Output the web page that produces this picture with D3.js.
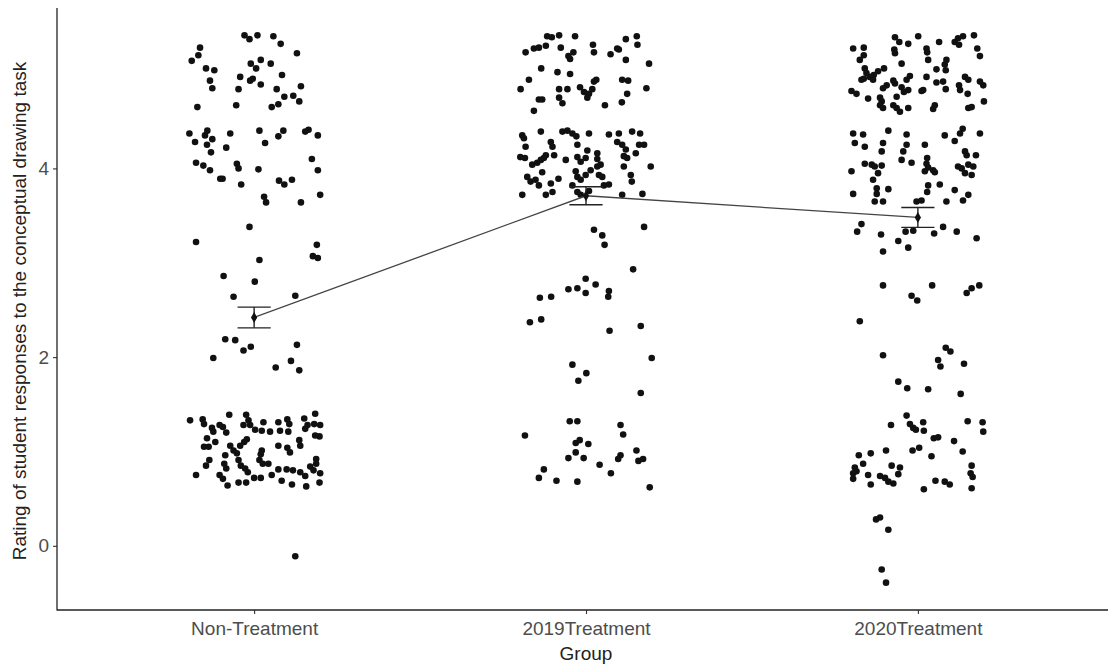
<!DOCTYPE html>
<html><head><meta charset="utf-8">
<script src="https://cdn.jsdelivr.net/npm/d3@7"></script>
<style>body{margin:0;background:#fff}svg{display:block}text{font-family:"Liberation Sans",Arial,sans-serif}</style>
</head><body>
<svg id="chart" width="1108" height="666"></svg>
<script>
const categories = ["Non-Treatment","2019Treatment","2020Treatment"];
const yTicks = [0,2,4];
const xTitle = "Group";
const yTitle = "Rating of student responses to the conceptual drawing task";
const groupMeans = [2.42, 3.71, 3.48];
const groupSE = [0.11, 0.095, 0.105];
// [horizontal jitter (in category steps), jittered rating]
const nonTreatment = [
[-0.029,5.41],[-0.014,5.37],[0.010,5.41],[0.058,5.40],[0.080,5.32],
[-0.163,5.28],[-0.168,5.20],[-0.188,5.14],[0.129,5.22],
[-0.145,5.06],[-0.120,5.04],[-0.010,5.11],[0.020,5.15],[0.006,5.06],[0.050,5.11],
[-0.133,4.93],[-0.126,4.85],[-0.042,4.97],[-0.004,4.95],[-0.012,4.93],[0.020,4.89],[0.084,4.99],[-0.047,4.84],[0.068,4.84],[0.141,4.87],
[-0.171,4.65],[-0.054,4.67],[0.053,4.65],[0.073,4.68],[0.091,4.76],[0.118,4.77],[0.136,4.71],
[-0.195,4.37],[-0.178,4.28],[-0.148,4.35],[-0.141,4.40],[-0.142,4.25],[-0.126,4.31],[-0.130,4.17],[-0.072,4.37],[-0.084,4.22],[0.016,4.40],[0.033,4.27],[0.073,4.34],[0.088,4.40],[0.154,4.39],[0.164,4.41],[0.192,4.35],
[-0.175,4.06],[-0.153,4.03],[-0.133,3.98],[-0.102,3.89],[-0.095,3.89],[-0.052,4.05],[-0.047,4.00],[-0.039,3.83],[0.013,3.99],[0.075,3.87],[0.091,3.83],[0.114,3.88],[0.174,4.10],[0.192,3.98],
[0.030,3.70],[0.036,3.64],[0.141,3.64],[0.199,3.72],
[-0.014,3.38],[-0.175,3.22],[0.189,3.19],[0.177,3.07],[0.192,3.05],[0.016,3.03],[-0.092,2.86],[0.002,2.80],[-0.062,2.64],[0.124,2.65],
[-0.087,2.19],[-0.057,2.18],[-0.032,2.07],[-0.010,2.11],[-0.123,1.99],[0.129,2.13],[0.065,1.89],[0.111,1.96],[0.136,1.86],
[-0.193,1.33],[-0.155,1.34],[-0.151,1.29],[-0.127,1.25],[-0.123,1.21],[-0.104,1.28],[-0.094,1.26],[-0.084,1.20],[-0.075,1.39],[-0.024,1.39],[-0.017,1.33],[-0.012,1.28],[-0.032,1.28],[0.003,1.23],[0.023,1.22],[0.028,1.31],[0.048,1.21],[0.073,1.31],[0.078,1.22],[0.100,1.34],[0.106,1.29],[0.103,1.21],[0.151,1.35],[0.154,1.24],[0.161,1.28],[0.184,1.40],[0.181,1.29],[0.199,1.28],[0.197,1.16],[0.184,1.17],
[-0.142,1.14],[-0.151,1.05],[-0.137,1.05],[-0.117,1.10],[-0.072,1.06],[-0.062,1.01],[-0.052,0.98],[-0.042,1.06],[-0.030,1.10],[-0.022,1.13],[-0.087,0.96],[-0.135,0.91],[-0.145,0.85],[-0.090,0.87],[-0.084,0.82],[-0.047,0.91],[-0.040,0.85],[-0.027,0.82],[-0.019,0.78],[0.023,1.01],[0.020,0.97],[0.016,0.91],[0.026,0.87],[0.043,0.87],[0.073,1.06],[0.100,1.04],[0.108,0.99],[0.136,1.12],[0.139,1.06],[0.187,0.92],[0.187,0.87],
[-0.175,0.75],[-0.104,0.75],[-0.094,0.71],[-0.080,0.64],[-0.047,0.67],[-0.024,0.67],[0.000,0.72],[0.020,0.72],[0.053,0.75],[0.073,0.81],[0.083,0.69],[0.098,0.81],[0.117,0.80],[0.114,0.65],[0.139,0.78],[0.154,0.74],[0.157,0.63],[0.169,0.84],[0.179,0.80],[0.199,0.77],[0.197,0.67],
[0.124,-0.11]
];
const treatment2019 = [
[-0.117,5.40],[-0.103,5.39],[-0.081,5.41],[-0.033,5.40],[0.120,5.37],[0.153,5.40],[0.094,5.27],[0.155,5.31],
[-0.157,5.27],[-0.142,5.28],[-0.121,5.30],[-0.182,5.23],[-0.076,5.28],[-0.038,5.23],[-0.053,5.19],[-0.048,5.16],[0.021,5.31],[0.024,5.23],[0.074,5.21],[0.099,5.26],[0.120,5.15],[0.190,5.11],
[-0.135,5.06],[-0.086,5.02],[-0.048,5.00],[-0.172,4.94],[-0.197,4.84],[-0.081,4.84],[-0.056,4.84],[-0.081,4.75],[-0.071,4.69],[-0.142,4.73],[-0.132,4.73],[-0.157,4.61],
[-0.018,4.86],[-0.006,4.81],[0.004,4.75],[0.009,4.79],[0.019,4.84],[0.031,4.94],[0.024,4.92],[0.057,4.67],[0.109,4.94],[0.127,4.93],[0.124,4.79],[0.108,4.70],[0.182,4.85],
[-0.192,4.35],[-0.187,4.32],[-0.136,4.39],[-0.071,4.39],[-0.056,4.40],[-0.041,4.37],[-0.029,4.34],[0.009,4.37],[0.069,4.36],[0.099,4.37],[0.139,4.39],[0.163,4.37],
[-0.182,4.23],[-0.106,4.28],[-0.101,4.23],[-0.026,4.25],[0.004,4.19],[0.034,4.16],[0.094,4.28],[0.109,4.25],[0.120,4.20],[0.160,4.25],[0.175,4.25],
[-0.198,4.12],[-0.184,4.11],[-0.162,4.04],[-0.147,4.06],[-0.136,4.09],[-0.127,4.11],[-0.121,4.14],[-0.096,4.14],[-0.061,4.09],[-0.026,4.12],[-0.016,4.07],[-0.001,4.11],[0.034,4.10],[0.034,4.02],[0.044,4.04],[0.114,4.13],[0.124,4.11],[0.114,4.02],[0.150,4.16],[0.195,4.02],
[-0.177,3.91],[-0.167,3.86],[-0.152,3.88],[-0.142,3.82],[-0.132,3.96],[-0.106,3.84],[-0.083,3.89],[-0.031,3.97],[-0.026,3.91],[-0.016,3.88],[-0.001,3.93],[0.014,3.98],[0.039,3.93],[0.049,3.91],[0.135,3.93],[0.138,3.86],[0.054,3.82],[0.069,3.83],
[-0.192,3.72],[-0.121,3.72],[-0.101,3.75],[-0.041,3.82],[-0.026,3.75],[-0.016,3.72],[0.009,3.76],[0.109,3.72],[0.170,3.73],
[0.024,3.35],[0.049,3.29],[0.056,3.19],[0.175,3.38],[0.142,2.93],[-0.001,2.83],[0.029,2.77],[-0.026,2.73],[-0.053,2.72],[-0.001,2.68],[0.069,2.70],[0.067,2.64],[-0.139,2.63],[-0.105,2.64],[-0.169,2.37],[-0.135,2.40],[0.071,2.28],[0.165,2.33],[0.198,1.99],[-0.041,1.92],[0.001,1.83],[-0.023,1.75],[0.165,1.62],
[-0.184,1.17],[-0.049,1.32],[-0.026,1.32],[0.104,1.28],[0.112,1.18],[-0.031,1.09],[-0.019,1.12],[0.007,1.08],[-0.031,0.99],[-0.053,0.93],[-0.007,0.93],[0.104,0.96],[0.097,0.92],[0.152,1.01],[0.158,0.90],[0.172,0.92],[-0.127,0.81],[-0.142,0.72],[-0.089,0.69],[-0.026,0.68],[0.041,0.86],[0.075,0.77],[0.192,0.62]
];
const treatment2020 = [
[-0.195,5.27],[-0.163,5.28],[-0.163,5.20],[-0.175,5.15],[-0.069,5.39],[-0.056,5.34],[-0.029,5.32],[-0.071,5.26],[-0.069,5.22],[0.001,5.40],[0.026,5.27],[0.028,5.23],[0.031,5.15],[0.064,5.34],[0.111,5.34],[0.121,5.38],[0.136,5.40],[0.124,5.31],[0.169,5.41],[0.179,5.27],[0.187,5.19],[0.086,5.15],[0.081,5.10],[0.084,5.04],[0.056,5.05],[-0.049,5.11],
[-0.160,5.06],[-0.155,5.01],[-0.163,4.95],[-0.170,4.94],[-0.145,4.97],[-0.133,4.99],[-0.120,5.03],[-0.102,5.06],[-0.135,4.94],[-0.024,4.98],[-0.034,4.94],[-0.074,4.93],[-0.094,4.88],[-0.105,4.85],[-0.069,4.90],[-0.049,4.86],[-0.042,4.81],[-0.029,4.83],
[0.026,4.97],[0.056,4.91],[0.076,4.92],[0.084,4.84],[0.016,4.83],[0.011,4.82],[0.124,4.88],[0.127,4.83],[0.142,4.97],[0.152,4.94],[0.187,4.92],[0.197,4.88],[0.150,4.79],
[-0.200,4.82],[-0.185,4.79],[-0.150,4.74],[-0.114,4.75],[-0.109,4.71],[-0.114,4.67],[-0.105,4.64],[-0.064,4.76],[-0.074,4.67],[-0.064,4.64],[-0.054,4.60],[-0.029,4.64],[0.051,4.67],[0.046,4.63],[0.152,4.64],[0.162,4.65],[0.199,4.71],
[-0.195,4.37],[-0.165,4.36],[-0.190,4.27],[-0.160,4.23],[-0.089,4.40],[-0.105,4.27],[-0.109,4.18],[-0.034,4.36],[-0.034,4.25],[-0.044,4.18],[-0.049,4.09],[0.021,4.25],[0.028,4.11],[0.081,4.35],[0.111,4.29],[0.127,4.37],[0.135,4.42],[0.187,4.37],[0.142,4.18],[0.147,4.14],[0.175,4.14],
[-0.160,4.05],[-0.139,4.04],[-0.130,4.02],[-0.109,4.03],[-0.120,3.95],[-0.135,3.88],[-0.200,3.97],[-0.019,4.06],[0.026,4.05],[0.031,4.01],[0.046,3.98],[0.021,3.97],[0.051,3.96],[0.121,4.02],[0.132,4.00],[0.152,4.04],[0.167,4.02],[0.142,3.95],[0.162,3.93],
[-0.124,3.79],[-0.124,3.73],[-0.089,3.78],[-0.130,3.65],[-0.105,3.65],[-0.195,3.73],[0.031,3.82],[0.066,3.83],[0.028,3.75],[0.111,3.77],[0.152,3.72],[0.136,3.66],[-0.004,3.65],[0.011,3.66],[0.086,3.65],
[-0.170,3.41],[-0.183,3.33],[-0.111,3.30],[-0.037,3.33],[-0.014,3.34],[-0.059,3.23],[-0.029,3.16],[-0.105,3.12],[0.049,3.31],[0.076,3.38],[0.117,3.33],[0.177,3.26],
[-0.105,2.76],[0.043,2.76],[-0.019,2.65],[-0.002,2.60],[0.147,2.68],[0.162,2.73],[0.185,2.76],[-0.175,2.38],[-0.105,2.02],[0.084,2.10],[0.098,2.06],[0.061,1.97],[0.068,1.90],[0.139,1.93],[-0.059,1.74],[-0.032,1.67],[0.031,1.66],[0.129,1.61],
[-0.034,1.38],[-0.024,1.29],[-0.014,1.25],[-0.006,1.23],[0.016,1.31],[0.018,1.22],[-0.081,1.28],[0.150,1.32],[0.195,1.31],[0.197,1.21],[0.048,1.14],[0.061,1.15],[0.109,1.11],[0.135,1.00],[-0.096,1.01],[-0.016,1.01],[0.004,1.04],[0.041,0.95],[-0.178,0.96],[-0.142,0.98],[-0.165,0.87],[-0.190,0.83],[-0.195,0.77],[-0.195,0.71],[-0.185,0.79],[-0.150,0.75],[-0.142,0.65],[-0.079,0.85],[-0.054,0.83],[-0.059,0.76],[-0.114,0.74],[-0.099,0.72],[-0.089,0.68],[-0.074,0.66],[0.162,0.85],[0.159,0.77],[0.165,0.73],[0.162,0.61],[0.018,0.60],[0.053,0.69],[0.081,0.68],[0.096,0.65],[-0.126,0.28],[-0.114,0.30],[-0.089,0.17],[-0.109,-0.25],[-0.096,-0.39]
];
const groupPoints = [nonTreatment, treatment2019, treatment2020];

(function draw() {
const svg = d3.select("#chart");
const pLeft = 57, pTop = 8, pBottom = 610, pRight = 1108;
const fontSize = "19px";
const y = d3.scaleLinear().domain([-0.68, 5.70]).range([pBottom, pTop]);
const x = d3.scalePoint().domain(categories).range([55, 1117]).padding(0.6);
const step = x.step();

// axes
const yAxis = svg.append("g").attr("transform", `translate(${pLeft},0)`)
  .call(d3.axisLeft(y).tickValues(yTicks).tickSize(4).tickPadding(4).tickFormat(d3.format("d")));
const xAxis = svg.append("g").attr("transform", `translate(0,${pBottom})`)
  .call(d3.axisBottom(x).tickSize(4).tickPadding(8));
[yAxis, xAxis].forEach(g => {
  g.select(".domain").remove();
  g.selectAll(".tick line").attr("stroke", "#333").attr("stroke-width", 1.1);
  g.selectAll(".tick text").attr("fill", "#4d4d4d").style("font-size", fontSize).style("font-family", "Liberation Sans, Arial, sans-serif");
});
svg.append("line").attr("x1", pLeft).attr("x2", pLeft).attr("y1", pTop).attr("y2", pBottom + 0.5).attr("stroke", "#222").attr("stroke-width", 1.3);
svg.append("line").attr("x1", pLeft).attr("x2", pRight).attr("y1", pBottom).attr("y2", pBottom).attr("stroke", "#222").attr("stroke-width", 1.3);

// titles
svg.append("text").attr("x", x(categories[1])).attr("y", 660).attr("text-anchor", "middle")
  .attr("fill", "#222").style("font-size", fontSize).text(xTitle);
svg.append("text").attr("transform", `translate(26,${(pTop + pBottom) / 2 + 2}) rotate(-90)`).attr("text-anchor", "middle")
  .attr("fill", "#222").style("font-size", fontSize).text(yTitle);

// jittered points
groupPoints.forEach((pts, i) => {
  svg.append("g").selectAll("circle").data(pts).join("circle")
    .attr("cx", d => x(categories[i]) + d[0] * step)
    .attr("cy", d => y(d[1]))
    .attr("r", 3.3)
    .attr("fill", "#111");
});

// mean line
const meanData = categories.map((c, i) => ({c, m: groupMeans[i], se: groupSE[i]}));
svg.append("path").datum(meanData)
  .attr("d", d3.line().x(d => x(d.c)).y(d => y(d.m)))
  .attr("fill", "none").attr("stroke", "#444").attr("stroke-width", 1.3);

// error bars
const eb = svg.append("g").attr("stroke", "#222").attr("stroke-width", 1.4);
meanData.forEach(d => {
  const cx = x(d.c), hw = 0.05 * step;
  eb.append("line").attr("x1", cx).attr("x2", cx).attr("y1", y(d.m + d.se)).attr("y2", y(d.m - d.se));
  eb.append("line").attr("x1", cx - hw).attr("x2", cx + hw).attr("y1", y(d.m + d.se)).attr("y2", y(d.m + d.se));
  eb.append("line").attr("x1", cx - hw).attr("x2", cx + hw).attr("y1", y(d.m - d.se)).attr("y2", y(d.m - d.se));
});
svg.append("g").selectAll("path").data(meanData).join("path")
  .attr("transform", d => `translate(${x(d.c)},${y(d.m)})`)
  .attr("d", d3.symbol(d3.symbolDiamond, 34))
  .attr("fill", "#111");
})();
</script>
</body></html>
